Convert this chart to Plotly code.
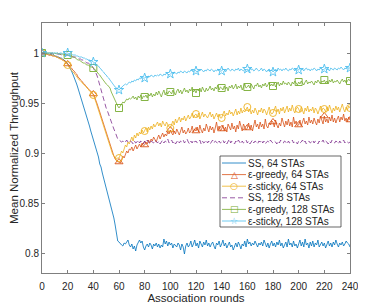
import plotly.graph_objects as go

rounds = list(range(0, 241))

ss_64 = [
    1.000, 1.000, 0.999, 1.000, 0.999, 0.999, 0.998, 0.999, 0.998, 0.998,
    0.997, 0.997, 0.996, 0.996, 0.995, 0.995, 0.994, 0.993, 0.992, 0.991,
    0.989, 0.987, 0.985, 0.982, 0.979, 0.976, 0.973, 0.969, 0.965, 0.961,
    0.957, 0.953, 0.948, 0.945, 0.940, 0.936, 0.931, 0.927, 0.922, 0.918,
    0.913, 0.909, 0.904, 0.901, 0.896, 0.889, 0.886, 0.880, 0.875, 0.871,
    0.866, 0.862, 0.856, 0.851, 0.846, 0.840, 0.835, 0.828, 0.820, 0.812,
    0.811, 0.809, 0.808, 0.807, 0.810, 0.809, 0.811, 0.813, 0.808, 0.806,
    0.809, 0.804, 0.807, 0.802, 0.808, 0.811, 0.813, 0.810, 0.812, 0.806,
    0.803, 0.807, 0.809, 0.806, 0.810, 0.808, 0.804, 0.809, 0.807, 0.810,
    0.806, 0.809, 0.805, 0.808, 0.806, 0.814, 0.809, 0.812, 0.807, 0.811,
    0.808, 0.810, 0.805, 0.809, 0.807, 0.806, 0.810, 0.808, 0.803, 0.809,
    0.806, 0.799, 0.807, 0.810, 0.806, 0.808, 0.812, 0.806, 0.809, 0.813,
    0.807, 0.810, 0.805, 0.812, 0.809, 0.806, 0.811, 0.808, 0.813, 0.807,
    0.810, 0.806, 0.809, 0.811, 0.807, 0.804, 0.810, 0.808, 0.812, 0.806,
    0.809, 0.813, 0.807, 0.810, 0.805, 0.809, 0.811, 0.806, 0.808, 0.803,
    0.807, 0.810, 0.806, 0.811, 0.808, 0.804, 0.809, 0.807, 0.812, 0.806,
    0.814, 0.809, 0.811, 0.807, 0.810, 0.808, 0.812, 0.809, 0.806, 0.810,
    0.808, 0.811, 0.807, 0.813, 0.809, 0.806, 0.810, 0.805, 0.809, 0.812,
    0.807, 0.810, 0.806, 0.811, 0.808, 0.813, 0.807, 0.810, 0.805, 0.809,
    0.811, 0.806, 0.814, 0.808, 0.810, 0.806, 0.812, 0.807, 0.809, 0.805,
    0.810, 0.813, 0.807, 0.811, 0.806, 0.814, 0.808, 0.810, 0.805, 0.811,
    0.807, 0.812, 0.806, 0.810, 0.808, 0.813, 0.806, 0.809, 0.811, 0.807,
    0.810, 0.805, 0.809, 0.812, 0.807, 0.810, 0.806, 0.811, 0.808, 0.813,
    0.809, 0.806, 0.810, 0.808, 0.811, 0.807, 0.809, 0.812, 0.810, 0.809,
    0.806,
]

egreedy_64 = [
    1.000, 1.000, 0.999, 0.999, 0.999, 0.998, 0.998, 0.998, 0.997, 0.997,
    0.997, 0.996, 0.996, 0.995, 0.995, 0.994, 0.993, 0.993, 0.992, 0.991,
    0.989, 0.988, 0.986, 0.985, 0.983, 0.982, 0.980, 0.979, 0.976, 0.975,
    0.973, 0.972, 0.970, 0.969, 0.967, 0.966, 0.964, 0.963, 0.962, 0.960,
    0.959, 0.956, 0.953, 0.949, 0.945, 0.941, 0.937, 0.933, 0.928, 0.924,
    0.920, 0.915, 0.912, 0.908, 0.904, 0.900, 0.897, 0.894, 0.892, 0.891,
    0.891, 0.890, 0.893, 0.897, 0.895, 0.899, 0.902, 0.900, 0.904, 0.903,
    0.906, 0.902, 0.905, 0.908, 0.904, 0.907, 0.909, 0.906, 0.910, 0.907,
    0.908, 0.911, 0.909, 0.913, 0.910, 0.914, 0.912, 0.916, 0.913, 0.911,
    0.915, 0.918, 0.914, 0.917, 0.920, 0.916, 0.919, 0.917, 0.921, 0.919,
    0.923, 0.920, 0.918, 0.922, 0.919, 0.924, 0.921, 0.918, 0.922, 0.926,
    0.920, 0.923, 0.919, 0.921, 0.925, 0.920, 0.922, 0.927, 0.921, 0.924,
    0.922, 0.926, 0.921, 0.928, 0.923, 0.920, 0.925, 0.922, 0.929, 0.924,
    0.921, 0.927, 0.923, 0.926, 0.920, 0.925, 0.931, 0.923, 0.927, 0.922,
    0.924, 0.928, 0.922, 0.926, 0.921, 0.929, 0.925, 0.923, 0.930, 0.924,
    0.927, 0.921, 0.928, 0.924, 0.932, 0.925, 0.922, 0.929, 0.926, 0.923,
    0.925, 0.930, 0.924, 0.928, 0.922, 0.927, 0.933, 0.926, 0.929, 0.924,
    0.931, 0.926, 0.929, 0.924, 0.934, 0.927, 0.925, 0.930, 0.928, 0.932,
    0.931, 0.926, 0.933, 0.928, 0.925, 0.930, 0.927, 0.935, 0.929, 0.926,
    0.932, 0.928, 0.934, 0.927, 0.931, 0.926, 0.936, 0.929, 0.932, 0.927,
    0.928, 0.933, 0.927, 0.931, 0.935, 0.929, 0.932, 0.928, 0.936, 0.930,
    0.933, 0.929, 0.935, 0.931, 0.928, 0.934, 0.930, 0.937, 0.932, 0.929,
    0.937, 0.931, 0.934, 0.930, 0.936, 0.932, 0.938, 0.931, 0.935, 0.930,
    0.934, 0.937, 0.931, 0.936, 0.933, 0.939, 0.932, 0.935, 0.931, 0.936,
    0.933,
]

esticky_64 = [
    1.000, 1.000, 1.000, 0.999, 0.999, 0.999, 0.998, 0.998, 0.998, 0.997,
    0.997, 0.996, 0.996, 0.995, 0.994, 0.994, 0.993, 0.992, 0.991, 0.990,
    0.988, 0.986, 0.985, 0.983, 0.981, 0.980, 0.978, 0.976, 0.975, 0.973,
    0.972, 0.971, 0.969, 0.968, 0.967, 0.965, 0.964, 0.962, 0.961, 0.960,
    0.958, 0.955, 0.951, 0.947, 0.943, 0.938, 0.934, 0.930, 0.926, 0.921,
    0.917, 0.913, 0.909, 0.905, 0.902, 0.899, 0.897, 0.895, 0.894, 0.895,
    0.895, 0.898, 0.902, 0.900, 0.905, 0.908, 0.906, 0.911, 0.909, 0.913,
    0.916, 0.912, 0.918, 0.915, 0.920, 0.917, 0.921, 0.919, 0.923, 0.920,
    0.922, 0.925, 0.921, 0.926, 0.923, 0.927, 0.924, 0.929, 0.926, 0.928,
    0.931, 0.927, 0.930, 0.926, 0.932, 0.929, 0.927, 0.931, 0.928, 0.926,
    0.925, 0.929, 0.932, 0.928, 0.934, 0.930, 0.933, 0.936, 0.931, 0.935,
    0.933, 0.937, 0.932, 0.935, 0.938, 0.934, 0.936, 0.940, 0.935, 0.938,
    0.939, 0.936, 0.940, 0.934, 0.938, 0.941, 0.936, 0.939, 0.937, 0.935,
    0.938, 0.941, 0.936, 0.939, 0.934, 0.937, 0.940, 0.936, 0.939, 0.935,
    0.935, 0.939, 0.942, 0.937, 0.940, 0.938, 0.943, 0.939, 0.941, 0.937,
    0.940, 0.944, 0.938, 0.942, 0.939, 0.945, 0.940, 0.943, 0.941, 0.944,
    0.946, 0.941, 0.944, 0.939, 0.943, 0.940, 0.945, 0.942, 0.938, 0.943,
    0.941, 0.945, 0.940, 0.944, 0.942, 0.938, 0.943, 0.946, 0.941, 0.939,
    0.940, 0.943, 0.947, 0.941, 0.944, 0.939, 0.945, 0.942, 0.946, 0.940,
    0.943, 0.947, 0.941, 0.945, 0.942, 0.948, 0.943, 0.940, 0.944, 0.946,
    0.944, 0.941, 0.946, 0.943, 0.939, 0.945, 0.942, 0.947, 0.941, 0.944,
    0.942, 0.946, 0.940, 0.945, 0.943, 0.939, 0.944, 0.947, 0.942, 0.945,
    0.944, 0.941, 0.946, 0.942, 0.948, 0.943, 0.940, 0.945, 0.942, 0.947,
    0.943, 0.946, 0.941, 0.945, 0.949, 0.944, 0.941, 0.946, 0.943, 0.947,
    0.945,
]

ss_128 = [
    1.000, 1.000, 1.000, 1.000, 1.000, 1.000, 1.000, 0.999, 1.000, 0.999,
    0.999, 0.999, 0.999, 0.999, 0.999, 0.998, 0.999, 0.998, 0.998, 0.998,
    0.998, 0.997, 0.997, 0.997, 0.996, 0.996, 0.996, 0.995, 0.995, 0.994,
    0.994, 0.993, 0.993, 0.992, 0.991, 0.990, 0.990, 0.989, 0.988, 0.987,
    0.985, 0.983, 0.980, 0.977, 0.972, 0.967, 0.962, 0.957, 0.953, 0.949,
    0.945, 0.942, 0.938, 0.935, 0.931, 0.927, 0.924, 0.921, 0.917, 0.914,
    0.913, 0.912, 0.911, 0.912, 0.910, 0.911, 0.913, 0.911, 0.910, 0.912,
    0.911, 0.909, 0.912, 0.910, 0.911, 0.913, 0.910, 0.912, 0.911, 0.909,
    0.912, 0.910, 0.913, 0.911, 0.909, 0.912, 0.911, 0.910, 0.913, 0.911,
    0.910, 0.912, 0.909, 0.911, 0.913, 0.910, 0.912, 0.911, 0.914, 0.910,
    0.911, 0.913, 0.910, 0.912, 0.909, 0.911, 0.913, 0.910, 0.912, 0.911,
    0.913, 0.910, 0.912, 0.914, 0.911, 0.909, 0.912, 0.910, 0.913, 0.911,
    0.912, 0.910, 0.911, 0.913, 0.909, 0.912, 0.910, 0.911, 0.913, 0.910,
    0.912, 0.909, 0.911, 0.913, 0.910, 0.912, 0.911, 0.909, 0.912, 0.910,
    0.911, 0.913, 0.910, 0.912, 0.909, 0.911, 0.914, 0.910, 0.912, 0.911,
    0.909, 0.912, 0.910, 0.913, 0.911, 0.909, 0.912, 0.910, 0.911, 0.913,
    0.910, 0.912, 0.909, 0.911, 0.913, 0.910, 0.912, 0.911, 0.909, 0.912,
    0.911, 0.913, 0.910, 0.912, 0.909, 0.911, 0.912, 0.910, 0.913, 0.911,
    0.910, 0.912, 0.911, 0.909, 0.912, 0.910, 0.913, 0.911, 0.910, 0.912,
    0.911, 0.909, 0.912, 0.910, 0.911, 0.913, 0.910, 0.912, 0.911, 0.909,
    0.912, 0.910, 0.911, 0.913, 0.910, 0.912, 0.909, 0.911, 0.912, 0.910,
    0.911, 0.913, 0.910, 0.912, 0.911, 0.909, 0.912, 0.910, 0.911, 0.913,
    0.910, 0.912, 0.911, 0.909, 0.912, 0.910, 0.913, 0.911, 0.910, 0.912,
    0.911, 0.909, 0.912, 0.910, 0.911, 0.913, 0.910, 0.912, 0.911, 0.910,
    0.911,
]

egreedy_128 = [
    1.000, 1.000, 1.000, 1.000, 1.000, 1.000, 1.000, 1.000, 1.000, 0.999,
    1.000, 0.999, 1.000, 0.999, 0.999, 0.999, 0.999, 0.998, 0.999, 0.998,
    0.998, 0.998, 0.997, 0.997, 0.996, 0.996, 0.995, 0.994, 0.993, 0.993,
    0.992, 0.991, 0.990, 0.990, 0.989, 0.988, 0.988, 0.987, 0.986, 0.986,
    0.985, 0.984, 0.982, 0.981, 0.979, 0.978, 0.976, 0.974, 0.972, 0.970,
    0.969, 0.968, 0.966, 0.965, 0.961, 0.958, 0.955, 0.952, 0.949, 0.947,
    0.945, 0.947, 0.949, 0.951, 0.950, 0.952, 0.954, 0.953, 0.955, 0.954,
    0.955, 0.957, 0.954, 0.956, 0.953, 0.957, 0.955, 0.958, 0.954, 0.957,
    0.956, 0.958, 0.955, 0.959, 0.957, 0.960, 0.956, 0.959, 0.957, 0.961,
    0.958, 0.962, 0.959, 0.956, 0.960, 0.963, 0.958, 0.961, 0.959, 0.962,
    0.961, 0.959, 0.963, 0.960, 0.958, 0.962, 0.964, 0.960, 0.963, 0.959,
    0.962, 0.965, 0.961, 0.963, 0.960, 0.964, 0.962, 0.966, 0.961, 0.963,
    0.960, 0.964, 0.962, 0.965, 0.961, 0.966, 0.963, 0.961, 0.965, 0.962,
    0.964, 0.967, 0.963, 0.965, 0.962, 0.966, 0.964, 0.968, 0.963, 0.966,
    0.965, 0.963, 0.967, 0.964, 0.966, 0.962, 0.967, 0.965, 0.968, 0.964,
    0.966, 0.969, 0.964, 0.967, 0.965, 0.968, 0.963, 0.967, 0.969, 0.965,
    0.966, 0.968, 0.965, 0.969, 0.966, 0.964, 0.968, 0.967, 0.970, 0.966,
    0.968, 0.965, 0.969, 0.967, 0.970, 0.966, 0.968, 0.971, 0.967, 0.969,
    0.967, 0.970, 0.966, 0.969, 0.971, 0.967, 0.970, 0.968, 0.972, 0.969,
    0.970, 0.968, 0.971, 0.969, 0.967, 0.971, 0.969, 0.972, 0.970, 0.968,
    0.971, 0.969, 0.972, 0.970, 0.968, 0.971, 0.973, 0.969, 0.971, 0.970,
    0.972, 0.970, 0.968, 0.972, 0.970, 0.973, 0.971, 0.969, 0.972, 0.971,
    0.973, 0.970, 0.972, 0.969, 0.973, 0.971, 0.974, 0.970, 0.972, 0.971,
    0.973, 0.971, 0.969, 0.972, 0.974, 0.971, 0.973, 0.970, 0.972, 0.974,
    0.972,
]

esticky_128 = [
    1.000, 1.000, 1.000, 1.000, 1.000, 1.000, 1.000, 1.000, 1.000, 1.000,
    1.000, 1.000, 1.000, 0.999, 1.000, 1.000, 0.999, 1.000, 0.999, 1.000,
    1.000, 0.999, 0.999, 0.999, 0.998, 0.998, 0.998, 0.997, 0.997, 0.996,
    0.996, 0.996, 0.995, 0.995, 0.994, 0.994, 0.993, 0.993, 0.992, 0.992,
    0.991, 0.990, 0.989, 0.988, 0.987, 0.985, 0.984, 0.982, 0.981, 0.979,
    0.978, 0.976, 0.975, 0.973, 0.971, 0.970, 0.968, 0.966, 0.965, 0.964,
    0.963, 0.964, 0.966, 0.967, 0.968, 0.969, 0.968, 0.970, 0.971, 0.970,
    0.972, 0.971, 0.973, 0.972, 0.974, 0.973, 0.975, 0.974, 0.976, 0.975,
    0.975, 0.976, 0.975, 0.977, 0.976, 0.978, 0.977, 0.976, 0.978, 0.977,
    0.978, 0.977, 0.979, 0.978, 0.977, 0.979, 0.978, 0.980, 0.979, 0.978,
    0.979, 0.980, 0.979, 0.981, 0.980, 0.979, 0.981, 0.980, 0.982, 0.981,
    0.980, 0.982, 0.981, 0.980, 0.982, 0.981, 0.983, 0.982, 0.981, 0.983,
    0.982, 0.981, 0.983, 0.982, 0.984, 0.982, 0.981, 0.983, 0.982, 0.984,
    0.983, 0.982, 0.984, 0.983, 0.981, 0.983, 0.982, 0.984, 0.983, 0.982,
    0.982, 0.984, 0.983, 0.981, 0.983, 0.985, 0.983, 0.982, 0.984, 0.983,
    0.982, 0.984, 0.983, 0.985, 0.982, 0.984, 0.983, 0.982, 0.984, 0.983,
    0.984, 0.982, 0.985, 0.983, 0.984, 0.982, 0.983, 0.985, 0.983, 0.982,
    0.983, 0.985, 0.982, 0.984, 0.983, 0.981, 0.983, 0.984, 0.982, 0.983,
    0.981, 0.983, 0.984, 0.982, 0.985, 0.983, 0.984, 0.982, 0.984, 0.983,
    0.985, 0.983, 0.982, 0.984, 0.983, 0.985, 0.984, 0.982, 0.984, 0.983,
    0.983, 0.985, 0.983, 0.984, 0.982, 0.984, 0.985, 0.983, 0.984, 0.982,
    0.984, 0.983, 0.985, 0.984, 0.982, 0.984, 0.983, 0.985, 0.984, 0.983,
    0.984, 0.985, 0.983, 0.984, 0.982, 0.985, 0.984, 0.983, 0.985, 0.984,
    0.983, 0.985, 0.984, 0.986, 0.984, 0.983, 0.985, 0.984, 0.986, 0.985,
    0.985,
]

series_names = ["SS, 64 STAs", "ε-greedy, 64 STAs", "ε-sticky, 64 STAs",
                "SS, 128 STAs", "ε-greedy, 128 STAs", "ε-sticky, 128 STAs"]
series_values = [ss_64, egreedy_64, esticky_64, ss_128, egreedy_128, esticky_128]
series_colors = ["#0072BD", "#D95319", "#EDB120", "#7E2F8E", "#77AC30", "#4DBEEE"]
series_symbols = [None, "triangle-up-open", "circle-open", None, "square-open", "star-open"]
legend_glyphs = ["", "△", "○", "", "□", "☆"]
series_dash = ["solid", "solid", "solid", "5px,3px", "solid", "solid"]
marker_every = 20

x_ticks = list(range(0, 241, 20))
y_ticks = [0.8, 0.85, 0.9, 0.95, 1.0]
y_ticktext = ["0.8", "0.85", "0.9", "0.95", "1"]

FONT = "Liberation Sans, Arial, Helvetica, sans-serif"
AX = "#7f7f7f"
TXT = "#262626"
LW = 0.8

# The page body has an 8px margin, so the figure is sized to fit the window.
PAGE_OFF = 8
W, H = 366 - PAGE_OFF, 308 - PAGE_OFF
# plot area, in window pixels
PL, PR, PT, PB = 42, 350, 23, 273
ML, MR = PL - PAGE_OFF, W - (PR - PAGE_OFF)
MT, MB = PT - PAGE_OFF, H - (PB - PAGE_OFF)


def fx(p):
    return (p - PL) / (PR - PL)


def fy(p):
    return (PB - p) / (PB - PT)


fig = go.Figure()
for name, vals, col, sym, dash in zip(series_names, series_values, series_colors,
                                      series_symbols, series_dash):
    if sym is None:
        fig.add_trace(go.Scatter(
            x=rounds, y=vals, name=name, mode="lines",
            line=dict(color=col, width=LW, dash=dash)))
    else:
        mcolors = [col if (r % marker_every == 0) else "rgba(0,0,0,0)" for r in rounds]
        fig.add_trace(go.Scatter(
            x=rounds, y=vals, name=name, mode="lines+markers",
            line=dict(color=col, width=LW, dash=dash),
            marker=dict(symbol=sym, size=7, color=mcolors,
                        line=dict(width=0.9))))

# legend box (MATLAB-style compact legend), in window pixels
LEG_L, LEG_R, LEG_T, LEG_B = 220, 341, 156, 227
ROW0, ROW_STEP = 163, 11.6
SAMPLE_L, SAMPLE_R, TEXT_X = 222, 246, 247

shapes = [dict(type="rect", xref="paper", yref="paper",
               x0=fx(LEG_L), x1=fx(LEG_R), y0=fy(LEG_B), y1=fy(LEG_T),
               fillcolor="white", line=dict(color="#262626", width=0.7),
               layer="above")]
annotations = []
for i, (name, col, glyph, dash) in enumerate(zip(series_names, series_colors,
                                                 legend_glyphs, series_dash)):
    yy = fy(ROW0 + i * ROW_STEP)
    shapes.append(dict(type="line", xref="paper", yref="paper",
                       x0=fx(SAMPLE_L), x1=fx(SAMPLE_R), y0=yy, y1=yy,
                       line=dict(color=col, width=LW, dash=dash), layer="above"))
    if glyph:
        annotations.append(dict(x=fx((SAMPLE_L + SAMPLE_R) / 2), y=yy,
                                xref="paper", yref="paper", text=glyph,
                                showarrow=False, xanchor="center", yanchor="middle",
                                borderpad=0,
                                font=dict(family="DejaVu Sans", size=9, color=col)))
    annotations.append(dict(x=fx(TEXT_X), y=yy, xref="paper", yref="paper",
                            text=name, showarrow=False, xanchor="left",
                            yanchor="middle", borderpad=0,
                            font=dict(family=FONT, size=10, color=TXT)))

fig.update_layout(
    width=W, height=H,
    margin=dict(l=ML, r=MR, t=MT, b=MB),
    paper_bgcolor="white", plot_bgcolor="white",
    font=dict(family=FONT, color=TXT, size=10),
    showlegend=False,
    shapes=shapes,
    annotations=annotations,
)
fig.update_xaxes(
    range=[0, 240], tickmode="array", tickvals=x_ticks,
    showline=True, linecolor=AX, linewidth=1, mirror="ticks",
    ticks="inside", ticklen=3, tickcolor=AX, tickwidth=1,
    showgrid=False, zeroline=False,
    tickfont=dict(size=10, color=TXT), ticklabelstandoff=4,
    title=dict(text="Association rounds", font=dict(size=11.5, color=TXT), standoff=2),
    automargin=False,
)
fig.update_yaxes(
    range=[0.78, 1.03], tickmode="array", tickvals=y_ticks, ticktext=y_ticktext,
    showline=True, linecolor=AX, linewidth=1, mirror="ticks",
    ticks="inside", ticklen=3, tickcolor=AX, tickwidth=1,
    showgrid=False, zeroline=False,
    tickfont=dict(size=10, color=TXT),
    title=dict(text="Mean Normalized Throughput", font=dict(size=11.5, color=TXT), standoff=6),
    automargin=False,
)

fig.write_html("out.html")
